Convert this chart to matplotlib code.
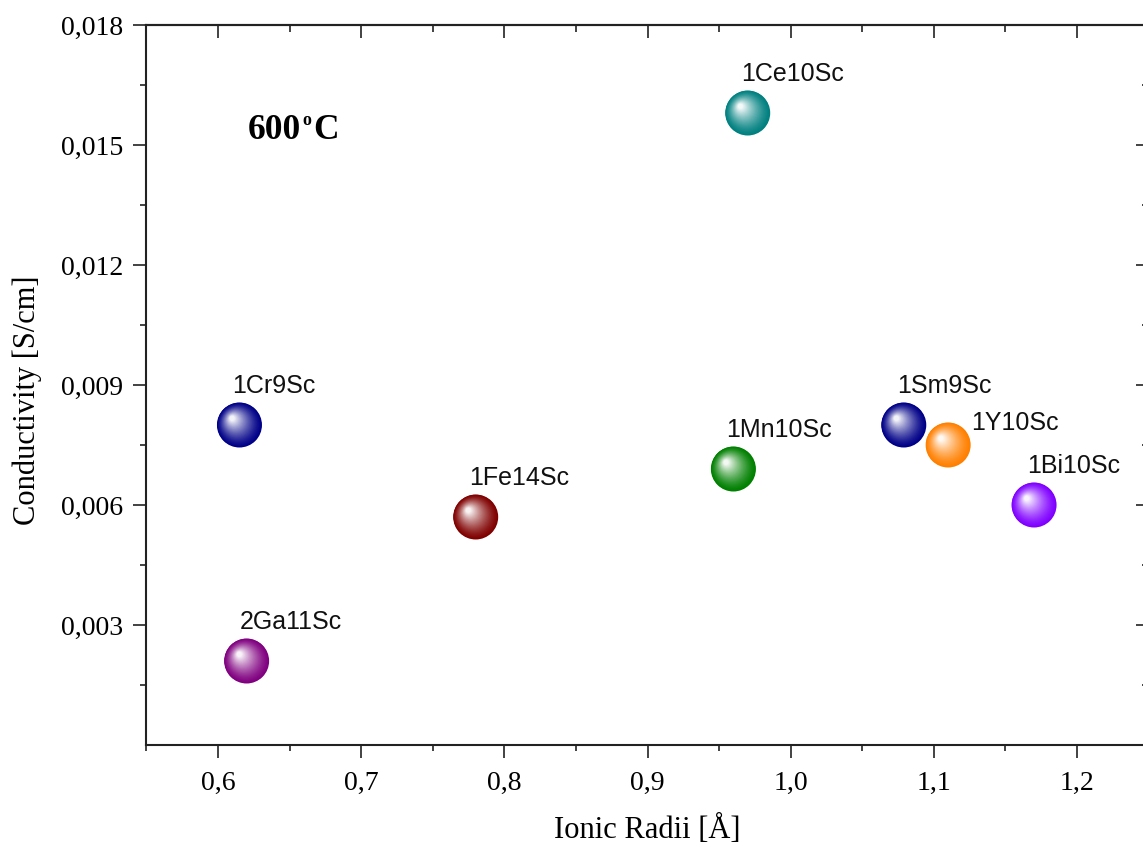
import numpy as np
import matplotlib
matplotlib.use('Agg')
import matplotlib.pyplot as plt
from matplotlib.transforms import ScaledTranslation
from matplotlib.colors import to_rgb
from matplotlib.ticker import FixedLocator, FuncFormatter

# ---- data ----
samples = ['1Cr9Sc', '2Ga11Sc', '1Fe14Sc', '1Mn10Sc', '1Ce10Sc', '1Sm9Sc', '1Y10Sc', '1Bi10Sc']
ionic_radii = [0.615, 0.62, 0.78, 0.96, 0.97, 1.079, 1.11, 1.17]
conductivity = [0.0080, 0.0021, 0.0057, 0.0069, 0.0158, 0.0080, 0.0075, 0.0060]
colors = ['#000088', '#800080', '#800000', '#008000', '#008080', '#000088', '#FF8000', '#8000FF']
x_ticks = [0.6, 0.7, 0.8, 0.9, 1.0, 1.1, 1.2]
y_ticks = [0.003, 0.006, 0.009, 0.012, 0.015, 0.018]

W, H = 1143, 847
fig = plt.figure(figsize=(W / 100, H / 100), dpi=100)
ax = fig.add_axes([146.4 / W, 102 / H, 1002.2 / W, 720 / H])
ax.set_xlim(0.55, 1.25)
ax.set_ylim(0, 0.018)

# ---- spheres ----
px = 0.72  # points per pixel at 100 dpi
R = 22.5          # sphere radius in px
hx, hy = -7.3, 6.7  # highlight offset in px (up-left)
base = np.array([to_rgb(c) for c in colors])
white = np.ones(3)
n = 40
for k in range(n):
    t = k / (n - 1)
    r = R * (1 - t) + 2.5 * t
    f = 0.95 * t ** 1.4
    cols = base * (1 - f) + white * f
    off = ScaledTranslation(t * hx * px / 72, t * hy * px / 72, fig.dpi_scale_trans)
    ax.scatter(ionic_radii, conductivity, s=(2 * r * px) ** 2, c=cols,
               linewidths=0, transform=ax.transData + off, zorder=3 + k * 0.001,
               clip_on=False)

# ---- labels ----
label_offsets = {'1Y10Sc': (22.5, 15)}
for name, xv, yv in zip(samples, ionic_radii, conductivity):
    dx, dy = label_offsets.get(name, (-7, 32))
    ax.annotate(name, (xv, yv), xytext=(dx * px, dy * px), textcoords='offset points',
                ha='left', va='baseline', fontsize=18, family='Liberation Sans',
                color='#111111', zorder=5)

def axpos(xp, yp):
    return (xp - 146.4) / 1002.2, (745 - yp) / 720

for txt, (xp, yp), fs in [('600', (248, 139), 25.5), ('o', (302, 125), 13), ('C', (313, 139), 25.5)]:
    ax.text(*axpos(xp, yp), txt, transform=ax.transAxes, fontsize=fs, ha='left',
            va='baseline', family='Liberation Serif', fontweight='bold')

# ---- axes styling ----
for s in ax.spines.values():
    s.set_linewidth(1.5)
    s.set_color('#222222')

ax.xaxis.set_major_locator(FixedLocator(x_ticks))
ax.xaxis.set_minor_locator(FixedLocator(np.arange(0.55, 1.26, 0.1)))
ax.yaxis.set_major_locator(FixedLocator(y_ticks))
ax.yaxis.set_minor_locator(FixedLocator(np.arange(0.0015, 0.018, 0.003)))
ax.xaxis.set_major_formatter(FuncFormatter(lambda v, p: f'{v:.1f}'.replace('.', ',')))
ax.yaxis.set_major_formatter(FuncFormatter(lambda v, p: f'{v:.3f}'.replace('.', ',')))

ax.tick_params(which='both', bottom=True, left=True, top=False, right=False,
               direction='out', width=1.2, color='#222222')
ax.tick_params(which='major', length=9.5)
ax.tick_params(which='minor', length=4.5)
ax.tick_params(axis='x', which='major', pad=9, labelsize=20)
ax.tick_params(axis='y', which='major', pad=7, labelsize=20)
for lab in ax.get_xticklabels() + ax.get_yticklabels():
    lab.set_family('Liberation Serif')

# inward ticks on top and right
sec_x = ax.secondary_xaxis('top')
sec_x.xaxis.set_major_locator(FixedLocator(x_ticks))
sec_x.xaxis.set_minor_locator(FixedLocator(np.arange(0.55, 1.26, 0.1)))
sec_x.tick_params(which='both', direction='in', width=1.2, color='#222222', labeltop=False)
sec_x.tick_params(which='major', length=9.5)
sec_x.tick_params(which='minor', length=5)
sec_x.spines['top'].set_linewidth(1.5)
sec_y = ax.secondary_yaxis('right')
sec_y.yaxis.set_major_locator(FixedLocator(y_ticks))
sec_y.yaxis.set_minor_locator(FixedLocator(np.arange(0.0015, 0.018, 0.003)))
sec_y.tick_params(which='both', direction='in', width=1.2, color='#222222', labelright=False)
sec_y.tick_params(which='major', length=9.5)
sec_y.tick_params(which='minor', length=5)

ax.set_xlabel('Ionic Radii [Å]', fontsize=22, family='Liberation Serif')
ax.set_ylabel('Conductivity [S/cm]', fontsize=22, family='Liberation Serif')
ax.xaxis.set_label_coords(0.5, -(815 - 745) / 720)
ax.yaxis.set_label_coords((42 - 146.4) / 1002.2, (745 - 400) / 720)

fig.savefig('out.png', dpi=100)
